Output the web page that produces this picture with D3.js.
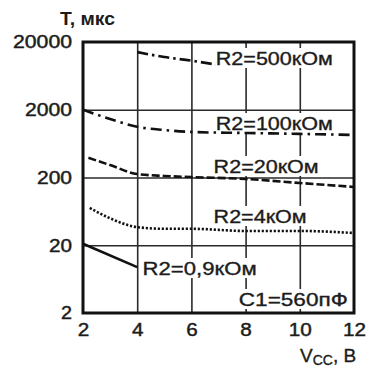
<!DOCTYPE html>
<html><head><meta charset="utf-8">
<script src="https://cdn.jsdelivr.net/npm/d3@7"></script>
<style>
html,body{margin:0;padding:0;background:#fff;}
svg{display:block;}
text{font-family:"Liberation Sans",Arial,sans-serif;fill:#1c1c1c;}
</style></head>
<body><svg id="c" width="366" height="367"></svg>
<script>
// ---- data ----
const xTicks = [2, 4, 6, 8, 10, 12];
const yTicks = [2, 20, 200, 2000, 20000];
const xGrid = [4, 6, 8, 10];
const yGrid = [20, 200, 2000];

const vcc500 = [4, 5, 6, 6.9];
const t500   = [14200, 12000, 10600, 9300];
const vcc100 = [2, 3, 4, 5, 6, 8, 10, 12];
const t100   = [2000, 1460, 1120, 1005, 940, 908, 880, 848];
const vcc20  = [2.2, 3, 4, 5, 6, 8, 10, 12];
const t20    = [390, 305, 225, 211, 203, 190, 166, 145];
const vcc4   = [2.25, 3, 4, 5, 6, 8, 10, 12];
const t4     = [71, 50, 37, 35, 35, 32.5, 32.5, 30.3];
const vcc09  = [2, 4];
const t09    = [21, 9.5];

const seriesNames = ["R2=500кОм", "R2=100кОм", "R2=20кОм", "R2=4кОм", "R2=0,9кОм"];
const noteLabel = "C1=560пФ";
const yTitle = "T, мкс";

// ---- layout ----
const L = 83, R = 354, T = 42, B = 313;
const svg = d3.select("#c");
const x = d3.scaleLinear().domain([2, 12]).range([L, R]);
const y = d3.scaleLog().domain([2, 20000]).range([B, T]);

// grid
svg.append("g").attr("transform", `translate(0,${B})`)
  .call(d3.axisBottom(x).tickValues(xGrid).tickSize(-(B - T)).tickFormat(""))
  .call(g => g.select(".domain").remove())
  .selectAll("line").attr("stroke", "#2a2a2a").attr("stroke-width", 1.6);
svg.append("g").attr("transform", `translate(${L},0)`)
  .call(d3.axisLeft(y).tickValues(yGrid).tickSize(-(R - L)).tickFormat(""))
  .call(g => g.select(".domain").remove())
  .selectAll("line").attr("stroke", "#2a2a2a").attr("stroke-width", 1.6);

// label positions (vcc at left edge, T at baseline)
const labels = [
  {text: seriesNames[0], vx: 6.9,  by: 65,  w: 117},
  {text: seriesNames[1], vx: 6.9,  by: 130, w: 117},
  {text: seriesNames[2], vx: 6.82, by: 173, w: 105},
  {text: seriesNames[3], vx: 6.82, by: 223, w: 93},
  {text: seriesNames[4], vx: 4.2,  by: 275, w: 114},
  {text: noteLabel,      vx: 7.75, by: 306, w: 109}
];
labels.forEach(d => d.ty = y.invert(d.by));

// label backgrounds
svg.append("g").selectAll("rect").data(labels).join("rect")
  .attr("x", d => x(d.vx) - 2)
  .attr("y", d => y(d.ty) - 17)
  .attr("width", d => d.w + 4)
  .attr("height", 20)
  .attr("fill", "#fff");

// curves
const line = d3.line().x(d => x(d[0])).y(d => y(d[1])).curve(d3.curveMonotoneX);
const curves = [
  {xs: vcc500, ys: t500, dash: "11,4,2.5,4"},
  {xs: vcc100, ys: t100, dash: "11,5,2.5,5"},
  {xs: vcc20,  ys: t20,  dash: "8,3"},
  {xs: vcc4,   ys: t4,   dash: "2.2,1.8"},
  {xs: vcc09,  ys: t09,  dash: null}
];
svg.append("g").selectAll("path").data(curves).join("path")
  .attr("d", c => line(c.xs.map((v, i) => [v, c.ys[i]])))
  .attr("fill", "none").attr("stroke", "#111")
  .attr("stroke-width", 2.6)
  .attr("stroke-dasharray", c => c.dash);

// label text
svg.append("g").selectAll("text").data(labels).join("text")
  .attr("x", d => x(d.vx)).attr("y", d => y(d.ty))
  .attr("font-size", 18)
  .attr("stroke", "#1c1c1c").attr("stroke-width", 0.35)
  .attr("textLength", d => d.w).attr("lengthAdjust", "spacingAndGlyphs")
  .text(d => d.text);

// frame
svg.append("rect").attr("x", L).attr("y", T).attr("width", R - L).attr("height", B - T)
  .attr("fill", "none").attr("stroke", "#111").attr("stroke-width", 3);

// axes labels
const yAx = svg.append("g").attr("transform", `translate(${L},0)`)
  .call(d3.axisLeft(y).tickValues(yTicks).tickSize(0).tickPadding(11).tickFormat(d3.format("d")));
yAx.select(".domain").remove();
yAx.selectAll("text").attr("font-size", 18).attr("font-family", '"Liberation Sans",Arial,sans-serif')
  .attr("fill", "#1c1c1c").attr("stroke", "#1c1c1c").attr("stroke-width", 0.45)
  .attr("textLength", d => String(d).length * 12 - 1).attr("lengthAdjust", "spacingAndGlyphs");

const xAx = svg.append("g").attr("transform", `translate(0,${B})`)
  .call(d3.axisBottom(x).tickValues(xTicks).tickSize(0).tickPadding(10).tickFormat(d3.format("d")));
xAx.select(".domain").remove();
xAx.selectAll("text").attr("font-size", 18).attr("font-family", '"Liberation Sans",Arial,sans-serif')
  .attr("fill", "#1c1c1c").attr("stroke", "#1c1c1c").attr("stroke-width", 0.45)
  .attr("textLength", d => String(d).length * 11.5).attr("lengthAdjust", "spacingAndGlyphs");

svg.append("text").attr("x", 60).attr("y", 25).attr("font-size", 18).attr("font-weight", "bold")
  .attr("textLength", 55).attr("lengthAdjust", "spacingAndGlyphs").text(yTitle);

const xt = svg.append("text").attr("x", 300).attr("y", 362).attr("font-size", 19)
  .attr("stroke", "#1c1c1c").attr("stroke-width", 0.35);
xt.append("tspan").text("V");
xt.append("tspan").attr("font-size", 14).attr("dy", 3).text("CC");
xt.append("tspan").attr("dy", -3).text(", B");
</script></body></html>
